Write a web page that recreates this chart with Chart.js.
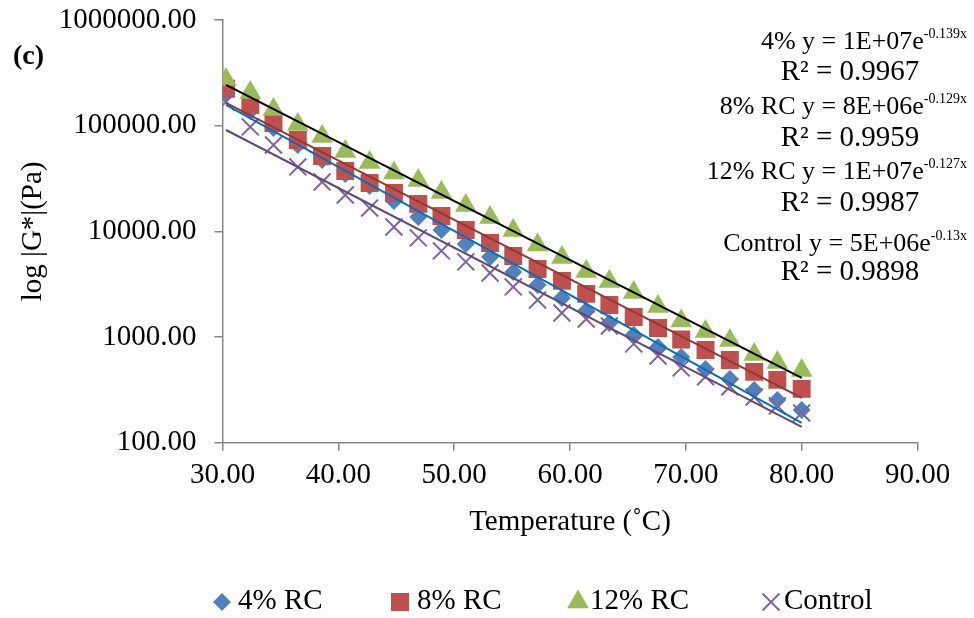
<!DOCTYPE html>
<html>
<head>
<meta charset="utf-8">
<script src="https://cdn.jsdelivr.net/npm/chart.js@4.4.1/dist/chart.umd.min.js"></script>
<style>
  html, body { margin: 0; padding: 0; background: #fff; }
  #wrap { width: 974px; height: 618px; }
</style>
</head>
<body>
<div id="wrap"><canvas id="chart" width="974" height="618"></canvas></div>
<script>
// temperatures (°C)
const temps = [30.3, 32.4, 34.4, 36.5, 38.6, 40.6, 42.7, 44.8, 46.9, 48.9, 51.0, 53.1, 55.1,
  57.2, 59.3, 61.4, 63.4, 65.5, 67.6, 69.6, 71.7, 73.8, 75.9, 77.9, 80.0];

// |G*| (Pa)
const rc4 = [203700, 137700, 95100, 65600, 47300, 34900, 26900, 19400, 13700, 10300, 7600, 5730, 4130,
  3110, 2340, 1770, 1360, 1050, 806, 648, 499, 401, 316, 254, 204];
const rc8 = [224000, 157000, 106000, 73300, 51700, 37300, 28700, 23100, 18200, 14000, 10300, 7760, 5850,
  4410, 3400, 2560, 2010, 1550, 1220, 949, 755, 607, 468, 393, 323];
const rc12 = [273500, 206000, 142300, 102600, 79000, 57000, 44900, 35700, 30300, 23300, 17600, 13500, 10200,
  7430, 5660, 4180, 3360, 2640, 1950, 1420, 1130, 929, 684, 575, 483];
const control = [167600, 97300, 65600, 40700, 29300, 22100, 16600, 11000, 8670, 6530, 5140, 4040, 2980,
  2240, 1690, 1480, 1270, 861, 662, 510, 420, 338, 271, 223, 191];

// exponential trendlines, end points
const trendX = [30.3, 80.0];
const trend4 = [157000, 154];
const trend8 = [164000, 265];
const trend12 = [242700, 410];
const trendCtrl = [91000, 141];

const yTicks = [100, 1000, 10000, 100000, 1000000];
const seriesNames = ['4% RC', '8% RC', '12% RC', 'Control'];
const eqMain = ['4% y = 1E+07e', '8% RC y = 8E+06e', '12% RC y = 1E+07e', 'Control y = 5E+06e'];
const eqExp = ['-0.139x', '-0.129x', '-0.127x', '-0.13x'];
const eqR2 = ['R² = 0.9967', 'R² = 0.9959', 'R² = 0.9987', 'R² = 0.9898'];

const SERIF = '"Liberation Serif", "Times New Roman", serif';
const pts = (ys) => ys.map((y, i) => ({ x: temps[i], y: y }));
const line = (ys) => ys.map((y, i) => ({ x: trendX[i], y: y }));

function markerSet(label, ys, style, color, r, order) {
  return {
    label: label, data: pts(ys), pointStyle: style, pointRadius: r, pointHoverRadius: r,
    backgroundColor: color, borderColor: color, borderWidth: style === 'crossRot' ? 2 : 0,
    showLine: false, order: order
  };
}
function trendSet(ys, color) {
  return {
    label: 'trend', data: line(ys), showLine: true, pointRadius: 0, borderColor: color,
    borderWidth: 2, backgroundColor: color, order: 0
  };
}

const datasets = [
  markerSet(seriesNames[0], rc4, 'rectRot', '#4F81BD', 9, 4),
  markerSet(seriesNames[1], rc8, 'rect', '#C0504D', 12.7, 3),
  markerSet(seriesNames[2], rc12, 'triangle', '#9BBB59', 12.5, 2),
  markerSet(seriesNames[3], control, 'crossRot', '#8064A2', 12, 1),
  trendSet(trend4, '#0070C0'),
  trendSet(trend8, '#953735'),
  trendSet(trend12, '#000000'),
  trendSet(trendCtrl, '#604A7B')
];

const extras = {
  id: 'extras',
  afterDraw(chart) {
    const ctx = chart.ctx;
    ctx.save();
    ctx.fillStyle = '#000';
    ctx.textBaseline = 'middle';

    // panel tag
    ctx.font = 'bold 28px ' + SERIF;
    ctx.textAlign = 'left';
    ctx.fillText('(c)', 13, 57);

    // trendline equations
    const eqY = [42, 107, 172, 244];
    const r2Y = [72, 138, 203, 272];
    for (let i = 0; i < eqMain.length; i++) {
      ctx.font = '14px ' + SERIF;
      const wExp = ctx.measureText(eqExp[i]).width;
      ctx.textAlign = 'left';
      ctx.fillText(eqExp[i], 967 - wExp, eqY[i] - 8);
      ctx.font = '26px ' + SERIF;
      ctx.textAlign = 'right';
      ctx.fillText(eqMain[i], 967 - wExp, eqY[i]);
      ctx.font = '29px ' + SERIF;
      ctx.textAlign = 'center';
      ctx.fillText(eqR2[i], 850, r2Y[i]);
    }

    // legend
    const legX = [222, 400, 578, 771];
    const txtX = [238, 417, 590, 784];
    ctx.font = '29px ' + SERIF;
    ctx.textAlign = 'left';
    for (let i = 0; i < 4; i++) {
      const ds = chart.data.datasets[i];
      ctx.fillStyle = ds.backgroundColor;
      ctx.strokeStyle = ds.borderColor;
      ctx.lineWidth = ds.borderWidth || 1;
      Chart.helpers.drawPoint(ctx, { pointStyle: ds.pointStyle, radius: ds.pointRadius, borderWidth: ds.borderWidth, rotation: 0 }, legX[i], 602);
      ctx.fillStyle = '#000';
      ctx.fillText(ds.label, txtX[i], 601);
    }
    ctx.restore();
  }
};

new Chart(document.getElementById('chart'), {
  type: 'scatter',
  data: { datasets: datasets },
  options: {
    responsive: false,
    devicePixelRatio: 1,
    animation: false,
    layout: { padding: { left: 0, top: 20, right: 56.5, bottom: 0 } },
    plugins: { legend: { display: false }, tooltip: { enabled: false } },
    scales: {
      x: {
        type: 'linear', min: 30, max: 90,
        afterFit: (s) => { s.height = 175.3; s.paddingLeft = 0; s.paddingRight = 0; },
        ticks: {
          stepSize: 10, color: '#000', padding: 7,
          font: { family: SERIF, size: 29 },
          callback: (v) => Number(v).toFixed(2)
        },
        grid: { drawOnChartArea: false, tickLength: 8, color: '#868686', lineWidth: 1.5 },
        border: { color: '#868686', width: 1.5 },
        title: {
          display: true, text: 'Temperature (˚C)', color: '#000',
          font: { family: SERIF, size: 29 }, padding: { top: 0, bottom: 78 }
        }
      },
      y: {
        type: 'logarithmic', min: 100, max: 1000000,
        afterFit: (s) => { s.width = 222.5; s.paddingTop = 0; s.paddingBottom = 0; },
        afterBuildTicks: (s) => { s.ticks = yTicks.map(v => ({ value: v })); },
        ticks: {
          color: '#000', padding: 18,
          font: { family: SERIF, size: 29 },
          callback: (v) => Number(v).toFixed(2)
        },
        grid: { drawOnChartArea: false, tickLength: 8, color: '#868686', lineWidth: 1.5 },
        border: { color: '#868686', width: 1.5 },
        title: {
          display: true, text: 'log |G*|(Pa)', color: '#000',
          font: { family: SERIF, size: 29 }, padding: { top: 15.6, bottom: 0 }
        }
      }
    }
  },
  plugins: [extras]
});
</script>
</body>
</html>
